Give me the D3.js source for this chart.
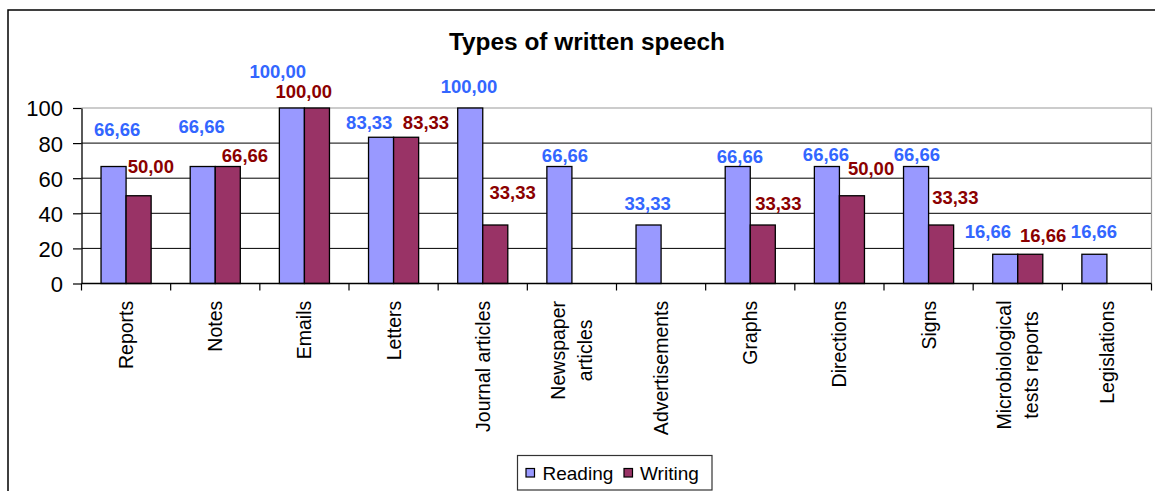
<!DOCTYPE html>
<html>
<head>
<meta charset="utf-8">
<script src="https://cdn.jsdelivr.net/npm/d3@7"></script>
<style>
  html, body { margin: 0; padding: 0; background: #fff; }
  svg { display: block; font-family: "Liberation Sans", Arial, sans-serif; }
</style>
</head>
<body>
<svg id="chart" width="1155" height="491"></svg>
<script>
// Categories (line breaks mark wrapped axis labels)
const categories = [
  "Reports", "Notes", "Emails", "Letters", "Journal articles",
  "Newspaper\narticles", "Advertisements", "Graphs", "Directions",
  "Signs", "Microbiological\ntests reports", "Legislations"
];
const seriesNames = ["Reading", "Writing"];
const reading = [66.66, 66.66, 100, 83.33, 100, 66.66, 33.33, 66.66, 66.66, 66.66, 16.66, 16.66];
const writing = [50.00, 66.66, 100, 83.33, 33.33, null, null, 33.33, 50.00, 33.33, 16.66, null];
const yTicks = [0, 20, 40, 60, 80, 100];
const title = "Types of written speech";

// Hand-placed offsets of the value labels from each bar's top centre [dx, dy]
const readingLabelNudge = [
  [3.6, -30.5], [-1.1, -33.2], [-14.2, -29.7], [-11.8, -8.3], [-1.3, -14.7], [5.6, -4.8],
  [-0.9, -15], [2.2, -3.2], [-0.9, -5.5], [0.9, -5.5], [-17.4, -16], [-0.4, -16]
];
const writingLabelNudge = [
  [12.2, -22.5], [17.2, -4.8], [-13.2, -9.7], [19.9, -8], [17.4, -25.7], [0, 0],
  [0, 0], [15.5, -15], [19.1, -20.75], [14.2, -20.7], [12.8, -12.6], [0, 0]
];

const colors = { Reading: "#9999ff", Writing: "#993366" };
const labelColors = { Reading: "#3366ff", Writing: "#8b0000" };

const svg = d3.select("#chart");
const plot = { left: 81.5, right: 1151.5, top: 108, bottom: 283.5 };

const fmt = d3.formatLocale({ decimal: ",", thousands: ".", grouping: [3], currency: ["", ""] }).format(".2f");

// Outer chart frame
svg.append("rect")
  .attr("x", 8).attr("y", 10)
  .attr("width", 1170).attr("height", 500)
  .attr("fill", "none").attr("stroke", "#000").attr("stroke-width", 1.5);

// Title
svg.append("text")
  .attr("x", 587).attr("y", 50)
  .attr("text-anchor", "middle")
  .attr("font-size", "24.4px").attr("font-weight", "bold")
  .text(title);

// Scales
const x0 = d3.scaleBand().domain(categories).range([plot.left, plot.right]).padding(0);
const x1 = d3.scaleBand().domain(seriesNames).range([0, x0.bandwidth()]).paddingInner(0).paddingOuter(0.78);
const y = d3.scaleLinear().domain([0, 100]).range([plot.bottom, plot.top]);

// Gridlines
svg.append("g").selectAll("line")
  .data(yTicks.filter(t => t > 0 && t < 100))
  .join("line")
  .attr("x1", plot.left).attr("x2", plot.right)
  .attr("y1", d => y(d)).attr("y2", d => y(d))
  .attr("stroke", "#000").attr("stroke-width", 1);

// Plot area border (top & right)
svg.append("path")
  .attr("d", `M${plot.left},${y(100)}H${plot.right}V${plot.bottom}`)
  .attr("fill", "none").attr("stroke", "#999").attr("stroke-width", 1.2);

// Bars
const rows = categories.map((c, i) => ({ c, i, Reading: reading[i], Writing: writing[i] }));
const groups = svg.append("g").selectAll("g")
  .data(rows).join("g")
  .attr("transform", d => `translate(${x0(d.c)},0)`);

groups.selectAll("rect")
  .data(d => seriesNames.filter(s => d[s] != null).map(s => ({ s, v: d[s] })))
  .join("rect")
  .attr("x", d => x1(d.s))
  .attr("y", d => y(d.v))
  .attr("width", x1.bandwidth())
  .attr("height", d => y(0) - y(d.v))
  .attr("fill", d => colors[d.s])
  .attr("stroke", "#000").attr("stroke-width", 1.3);

// Y axis
const yAxis = svg.append("g")
  .attr("transform", `translate(${plot.left},0)`)
  .call(d3.axisLeft(y).tickValues(yTicks).tickFormat(d3.format("d")).tickSize(8.5).tickSizeOuter(0).tickPadding(10));
yAxis.select(".domain").attr("stroke", "#000").attr("stroke-width", 1.3);
yAxis.selectAll(".tick line").attr("stroke", "#000").attr("stroke-width", 1.2);
yAxis.selectAll(".tick text")
  .attr("font-size", "22px").attr("font-family", "'Liberation Sans', Arial, sans-serif")
  .attr("fill", "#000").attr("dy", "0.36em");

// X axis line and boundary ticks
svg.append("line")
  .attr("x1", plot.left).attr("x2", plot.right)
  .attr("y1", plot.bottom).attr("y2", plot.bottom)
  .attr("stroke", "#000").attr("stroke-width", 1.3);
const bounds = categories.map(c => x0(c)).concat([x0.range()[1]]);
svg.append("g").selectAll("line")
  .data(bounds).join("line")
  .attr("x1", d => d).attr("x2", d => d)
  .attr("y1", plot.bottom).attr("y2", plot.bottom + 7)
  .attr("stroke", "#000").attr("stroke-width", 1.2);

// Category labels (rotated, top-aligned just below the axis)
const lineGap = 27;
const catG = svg.append("g").selectAll("text")
  .data(categories).join("text")
  .attr("font-size", "19.5px")
  .attr("text-anchor", "middle")
  .attr("fill", "#000")
  .each(function (c) {
    const lines = c.split("\n");
    const t = d3.select(this);
    // block width in px (longest line) to keep the block end at the axis side
    const cx = x0(c) + x0.bandwidth() / 2;
    t.attr("transform", `translate(${cx},0) rotate(-90)`);
    const temp = lines.map(l => l);
    temp.forEach((l, k) => {
      t.append("tspan").text(l)
        .attr("x", 0)
        .attr("y", (k - (lines.length - 1) / 2) * lineGap)
        .attr("dy", "0.36em");
    });
  });
// Align each label block so its top end sits at y = 300.5
catG.each(function () {
  const t = d3.select(this);
  const bb = this.getBBox(); // in rotated frame: x runs along -y of page
  const tr = t.attr("transform");
  const endOffset = -(bb.x + bb.width); // top of block relative to anchor
  t.attr("transform", tr.replace(",0)", `,${300.5 - endOffset})`));
});

// Value labels
function addLabels(values, nudge, series) {
  svg.append("g").selectAll("text")
    .data(values.map((v, i) => ({ v, i })).filter(d => d.v != null))
    .join("text")
    .attr("x", d => x0(categories[d.i]) + x1(series) + x1.bandwidth() / 2 + nudge[d.i][0])
    .attr("y", d => y(d.v) + nudge[d.i][1])
    .attr("text-anchor", "middle")
    .attr("font-size", "18.5px").attr("font-weight", "bold")
    .attr("fill", labelColors[series])
    .text(d => fmt(d.v));
}
addLabels(reading, readingLabelNudge, "Reading");
addLabels(writing, writingLabelNudge, "Writing");

// Legend
const legend = svg.append("g");
legend.append("rect")
  .attr("x", 517.5).attr("y", 455.5).attr("width", 194.5).attr("height", 34.5)
  .attr("fill", "#fff").attr("stroke", "#333").attr("stroke-width", 1.2);
const legendItems = [
  { s: "Reading", sx: 526, tx: 542.5 },
  { s: "Writing", sx: 624, tx: 640 }
];
legendItems.forEach(it => {
  legend.append("rect")
    .attr("x", it.sx).attr("y", 468.5).attr("width", 8.5).attr("height", 8.5)
    .attr("fill", colors[it.s]).attr("stroke", "#000").attr("stroke-width", 1.2);
  legend.append("text")
    .attr("x", it.tx).attr("y", 479.5)
    .attr("font-size", "19px").attr("fill", "#000")
    .text(it.s);
});
</script>
</body>
</html>
